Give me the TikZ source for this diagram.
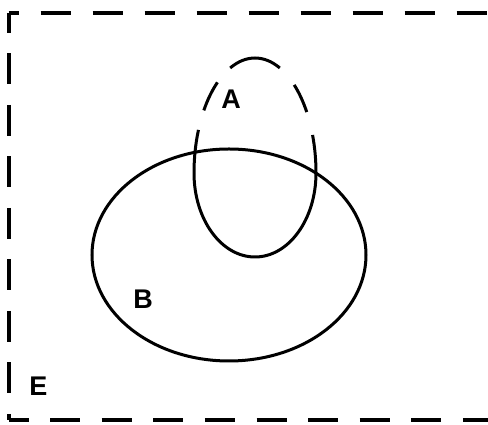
\documentclass[tikz,border=0pt]{standalone}
\usepackage{fontspec}
\setmainfont{Liberation Sans}
\begin{document}
\begin{tikzpicture}[x=1pt,y=1pt,
  frameline/.style={line width=4pt,black},
  setline/.style={line width=3pt,black},
  setlabel/.style={inner sep=0pt,font=\fontsize{27}{30}\selectfont\bfseries}]
\useasboundingbox (0,0) rectangle (488,425);
% universal set frame (dashed)
\coordinate (TL) at (8.5,412);
\coordinate (TR) at (489.5,412);
\coordinate (BL) at (8.5,5);
\coordinate (BR) at (489.5,5);
\draw[frameline,dash pattern=on 30pt off 22pt,dash phase=20pt] (TL) -- (TR);
\draw[frameline,dash pattern=on 31pt off 20.5pt,dash phase=11pt] (TL) -- (BL);
\draw[frameline,dash pattern=on 30pt off 21.6pt,dash phase=10pt] (BL) -- (BR);
\draw[frameline,dash pattern=on 31pt off 20.5pt,dash phase=11pt] (TR) -- (BR);
% set B
\coordinate (Bc) at (229,170);
\draw[setline] (Bc) ellipse [x radius=137, y radius=106];
% set A: solid inside B
\coordinate (Ac) at (255,252);
\begin{scope}
  \clip (Bc) ellipse [x radius=137, y radius=106];
  \draw[setline] (Ac) ++(0:61 and 115) arc[start angle=0,end angle=180,x radius=61,y radius=115]
     arc[start angle=180,end angle=360,x radius=61,y radius=84];
\end{scope}
% set A: dashed outside B
\begin{scope}[even odd rule]
  \clip (0,0) rectangle (488,425) (Bc) ellipse [x radius=137, y radius=106];
  \foreach \ta/\tb in {0/19.3, 32/50, 66/114, 128/147, 158/182}{
    \draw[setline] (Ac) ++(\ta:61 and 115) arc[start angle=\ta,end angle=\tb,x radius=61,y radius=115];
  }
\end{scope}
% labels
\node[setlabel] (la) at (231,326) {A};
\node[setlabel] (lb) at (143,126) {B};
\node[setlabel] (le) at (38.5,39) {E};
\end{tikzpicture}
\end{document}
